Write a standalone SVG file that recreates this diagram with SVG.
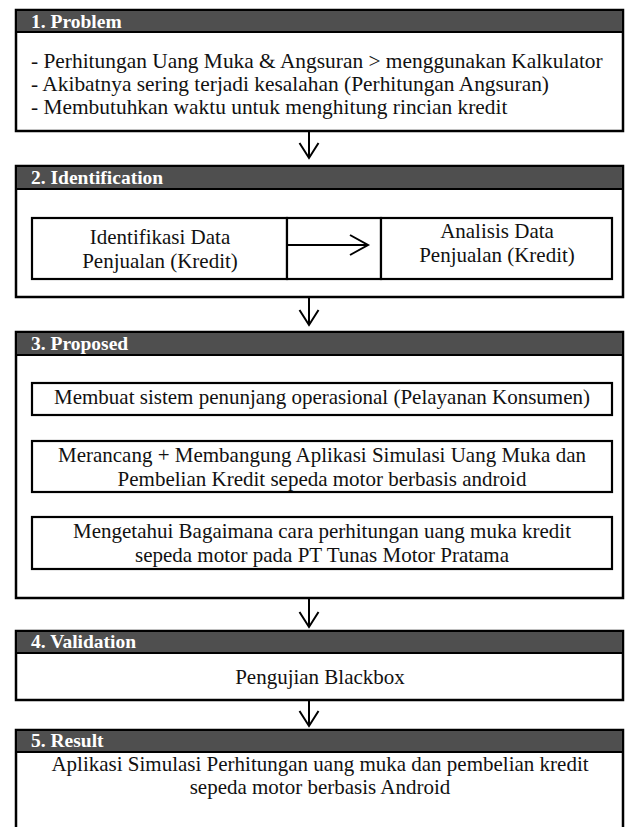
<svg xmlns="http://www.w3.org/2000/svg" width="629" height="827" viewBox="0 0 629 827" font-family="'Liberation Serif', 'DejaVu Serif', serif">
  <style>
    .frame { fill: #ffffff; stroke: #000000; stroke-width: 2.5; }
    .head { fill: #4f4f4f; stroke: #000000; stroke-width: 2; }
    .inner { fill: #ffffff; stroke: #000000; stroke-width: 2.2; }
    .htxt { font-weight: bold; font-size: 19.5px; fill: #ffffff; }
    .txt { font-size: 21px; fill: #111111; }
    .big { font-size: 21.4px; }
    .mid { text-anchor: middle; }
    .conn { fill: none; stroke: #000000; stroke-width: 2; }
  </style>
  <rect width="629" height="827" fill="#ffffff"/>

  <!-- 1. Problem -->
  <g id="problem">
    <rect class="frame" x="16" y="10" width="607" height="121"/>
    <rect class="head" x="16" y="10" width="607" height="22"/>
    <text class="htxt" x="31" y="27.5">1. Problem</text>
    <text class="txt big" x="31" y="68">- Perhitungan Uang Muka &amp; Angsuran &gt; menggunakan Kalkulator</text>
    <text class="txt big" x="31" y="91">- Akibatnya sering terjadi kesalahan (Perhitungan Angsuran)</text>
    <text class="txt big" x="31" y="114">- Membutuhkan waktu untuk menghitung rincian kredit</text>
  </g>

  <!-- 2. Identification -->
  <g id="identification">
    <rect class="frame" x="16" y="166" width="607" height="131"/>
    <rect class="head" x="16" y="166" width="607" height="23"/>
    <text class="htxt" x="31" y="183.5">2. Identification</text>
  </g>
  <g id="identifikasi-data">
    <rect class="inner" x="32" y="218" width="255" height="61"/>
    <text class="txt mid" x="160" y="244">Identifikasi Data</text>
    <text class="txt mid" x="160" y="268">Penjualan (Kredit)</text>
  </g>
  <g id="arrow-cell">
    <rect class="inner" x="287" y="218" width="94" height="61"/>
  </g>
  <g id="analisis-data">
    <rect class="inner" x="381" y="218" width="231" height="61"/>
    <text class="txt mid" x="497" y="238">Analisis Data</text>
    <text class="txt mid" x="497" y="262">Penjualan (Kredit)</text>
  </g>

  <!-- 3. Proposed -->
  <g id="proposed">
    <rect class="frame" x="16" y="332" width="607" height="266"/>
    <rect class="head" x="16" y="332" width="607" height="23"/>
    <text class="htxt" x="31" y="349.5">3. Proposed</text>
  </g>
  <g id="proposed-1">
    <rect class="inner" x="32" y="383" width="580" height="32"/>
    <text class="txt mid" x="322" y="404">Membuat sistem penunjang operasional (Pelayanan Konsumen)</text>
  </g>
  <g id="proposed-2">
    <rect class="inner" x="32" y="441" width="580" height="51"/>
    <text class="txt mid" x="322" y="462">Merancang + Membangung Aplikasi Simulasi Uang Muka dan</text>
    <text class="txt mid" x="322" y="486">Pembelian Kredit sepeda motor berbasis android</text>
  </g>
  <g id="proposed-3">
    <rect class="inner" x="32" y="517" width="580" height="52"/>
    <text class="txt mid" x="322" y="538">Mengetahui Bagaimana cara perhitungan uang muka kredit</text>
    <text class="txt mid" x="322" y="562">sepeda motor pada PT Tunas Motor Pratama</text>
  </g>

  <!-- 4. Validation -->
  <g id="validation">
    <rect class="frame" x="16" y="631" width="607" height="69"/>
    <rect class="head" x="16" y="631" width="607" height="22"/>
    <text class="htxt" x="31" y="648">4. Validation</text>
    <text class="txt mid" x="320" y="684">Pengujian Blackbox</text>
  </g>

  <!-- 5. Result -->
  <g id="result">
    <rect class="frame" x="16" y="730" width="607" height="110"/>
    <rect class="head" x="16" y="730" width="607" height="22"/>
    <text class="htxt" x="31" y="747">5. Result</text>
    <text class="txt mid" x="320" y="771">Aplikasi Simulasi Perhitungan uang muka dan pembelian kredit</text>
    <text class="txt mid" x="320" y="794">sepeda motor berbasis Android</text>
  </g>

  <!-- connectors -->
  <g id="connectors">
    <path class="conn" d="M309 131 V158 M299.5 143 L309 158 L318.5 143"/>
    <path class="conn" d="M309 297 V325 M299.5 310 L309 325 L318.5 310"/>
    <path class="conn" d="M309 598 V627 M299.5 612 L309 627 L318.5 612"/>
    <path class="conn" d="M309 700 V726 M299.5 711 L309 726 L318.5 711"/>
    <path class="conn" d="M287 245 H368 M350 235 L368 245 L350 255"/>
  </g>
</svg>
